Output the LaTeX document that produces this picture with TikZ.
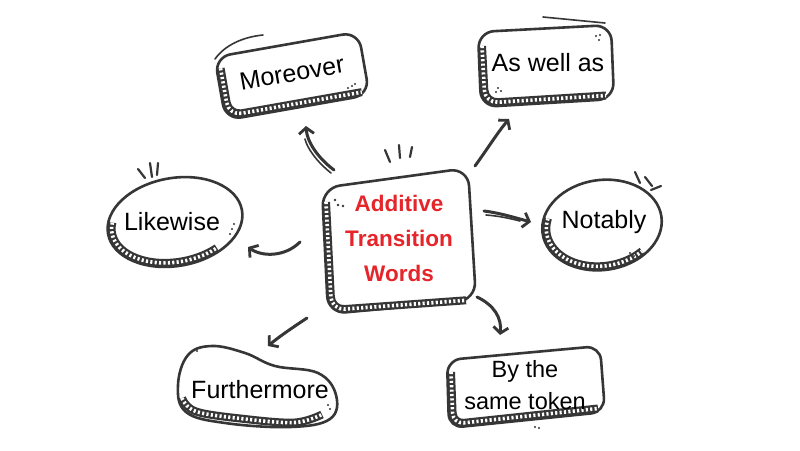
\documentclass[tikz,border=0pt]{standalone}
\usepackage{fontspec}
\setmainfont{Liberation Sans}
\usetikzlibrary{arrows.meta}
\definecolor{ink}{HTML}{363636}
\definecolor{redtxt}{HTML}{E5252A}
\tikzset{
  outline/.style={draw=ink, line width=2.6pt, fill=white, line join=round},
  hatch/.style={draw=ink, line width=8pt, line cap=butt,
    postaction={draw=white, line width=3.6pt, dash pattern=on 2.1pt off 2.3pt}},
  thin/.style={draw=ink, line width=1.6pt, line cap=round},
  tick/.style={draw=ink, line width=2.2pt, line cap=round},
  arr/.style={draw=ink, line width=3pt, line cap=round,
    -{Straight Barb[length=6pt,width=15pt,line width=2.8pt]}},
  lbl/.style={text=black, font=\fontsize{25}{28}\selectfont, align=center},
  title/.style={text=redtxt, font=\fontsize{22.5}{35}\selectfont\bfseries, align=center}
}
\begin{document}
\begin{tikzpicture}[x=1pt,y=-1pt]
\useasboundingbox[fill=white] (0,0) rectangle (800,450);

% ---------- centre box ----------
\draw[outline, rounded corners=18] (322,188) -- (468,168) -- (476,300) -- (328,314) -- cycle;
\draw[hatch, rounded corners=13] (326,202) -- (331.5,310) -- (466,300.3);
\foreach \p in {(335,200),(338,205),(343,206)} \fill[ink] \p circle (1.3pt);
\draw[tick] (385,150) -- (390,162);
\draw[tick] (399,145) -- (400,158);
\draw[tick] (412,147) -- (410,157);
\node[title] (c) at (399,238) {Additive\\Transition\\Words};

% ---------- Moreover ----------
\begin{scope}[rotate around={10:(292,76)}]
  \draw[outline, rounded corners=16] (219,44) -- (365,44) -- (365,108) -- (219,108) -- cycle;
  \draw[hatch, rounded corners=13] (223,56) -- (223,104) -- (358,104);
\end{scope}
\draw[thin] (215,59) .. controls (225,45) and (243,37) .. (263,35);
\foreach \p in {(348,88),(352,86),(355,84),(353,91)} \fill[ink] \p circle (1.1pt);
\node[lbl, rotate=10] (m) at (292,73) {Moreover};

% ---------- As well as ----------
\draw[outline, rounded corners=16] (478,32) -- (611,25) -- (614,99) -- (481,107) -- cycle;
\draw[hatch, rounded corners=13] (482,46) -- (485,103) -- (606,95.5);
\draw[thin] (543,17) -- (605,23);
\foreach \p in {(596,36),(599,40),(600,35)} \fill[ink] \p circle (1.1pt);
\foreach \p in {(498,88),(501,91),(496,92)} \fill[ink] \p circle (1.1pt);
\node[lbl] (w) at (548,63) {As well as};

% ---------- Likewise ----------
\begin{scope}[rotate around={10:(175,222)}]
  \draw[outline] (175,222) ellipse [x radius=68, y radius=44];
  \draw[hatch] ([shift={(195:64 and 40)}]175,222) arc [start angle=195, end angle=55, x radius=64, y radius=40];
\end{scope}
\foreach \p in {(234,224),(232,229),(230,234)} \fill[ink] \p circle (1.1pt);
\draw[tick] (138,169) -- (145,178);
\draw[tick] (150,163) -- (152,177);
\draw[tick] (158,163) -- (157,175);
\node[lbl] (l) at (172,222) {Likewise};

% ---------- Notably ----------
\begin{scope}[rotate around={8:(602,225)}]
  \draw[outline] (602,225) ellipse [x radius=60, y radius=45];
  \draw[hatch] ([shift={(200:56 and 41)}]602,225) arc [start angle=200, end angle=50, x radius=56, y radius=41];
\end{scope}
\foreach \p in {(630,253),(634,256),(629,258)} \fill[ink] \p circle (1.1pt);
\draw[tick] (635,172) -- (640,183);
\draw[tick] (645,177) -- (652,186);
\draw[tick] (651,190) -- (661,186);
\node[lbl] (n) at (604,222) {Notably};

% ---------- Furthermore ----------
\draw[outline] plot[smooth cycle, tension=0.65] coordinates
  {(178,385) (188,355) (212,346) (245,353) (275,366) (318,373) (336,395) (330,419) (290,427) (225,423) (186,412)};
\draw[hatch] plot[smooth, tension=0.6] coordinates {(182,398) (196,411.5) (245,419) (295,422.5) (322,414.5)};
\foreach \p in {(197,351),(200,348)} \fill[ink] \p circle (1.1pt);
\foreach \p in {(328,405),(330,409)} \fill[ink] \p circle (1.1pt);
\node[lbl] (f) at (260,390) {Furthermore};

% ---------- By the same token ----------
\draw[outline, rounded corners=14] (447,360) -- (600,346) -- (605,412) -- (449,428) -- cycle;
\draw[hatch, rounded corners=11] (451,372) -- (453,424) -- (598,408.5);
\foreach \p in {(535,427),(539,428)} \fill[ink] \p circle (1.1pt);
\node[lbl, font=\fontsize{23.5}{32}\selectfont] (t) at (525,385) {By the\\same token};

% ---------- connectors ----------
\coordinate (mT) at (334,170);
\coordinate (mH) at (306,126);
\coordinate (wT) at (475,166);
\coordinate (wH) at (509,119);
\coordinate (nT) at (484,211);
\coordinate (nH) at (531,222);
\coordinate (lT) at (300,242);
\coordinate (lH) at (248,247);
\coordinate (fT) at (307,318);
\coordinate (fH) at (268,346);
\coordinate (tT) at (477,297);
\coordinate (tH) at (500,335);

\draw[arr] (mT) .. controls (318,158) and (307,142) .. (mH);
\draw[thin] (331,173) .. controls (317,162) and (307,148) .. (305,139);
\draw[arr] (wT) .. controls (488,148) and (498,132) .. (wH);
\draw[arr] (nT) .. controls (500,213) and (516,218) .. (nH);
\draw[thin] (486,215) .. controls (500,216) and (512,219) .. (520,221);
\draw[arr] (lT) .. controls (285,257) and (262,257) .. (lH);
\draw[arr] (fT) .. controls (292,328) and (280,336) .. (fH);
\draw[arr] (tT) .. controls (494,305) and (502,318) .. (tH);
\end{tikzpicture}
\end{document}
